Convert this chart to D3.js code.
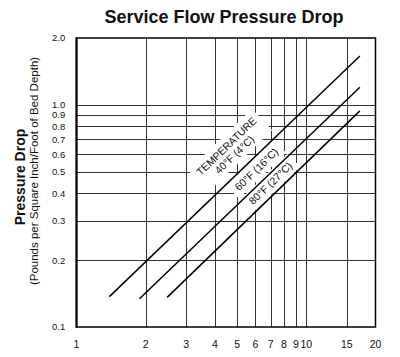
<!DOCTYPE html>
<html><head><meta charset="utf-8">
<script src="https://cdn.jsdelivr.net/npm/d3@7"></script>
<style>
html,body{margin:0;padding:0;background:#fff;}
text{font-family:"Liberation Sans",Arial,sans-serif;fill:#111;}
</style></head>
<body><svg id="c" width="400" height="357"></svg>
<script>
const title = "Service Flow Pressure Drop";
const yTitle = "Pressure Drop";
const ySubTitle = "(Pounds per Square Inch/Foot of Bed Depth)";
const xTicks = [1, 2, 3, 4, 5, 6, 7, 8, 9, 10, 15, 20];
const xGrid = [2, 3, 4, 5, 6, 7, 8, 9, 10, 15];
const yTicks = [0.1, 0.2, 0.3, 0.4, 0.5, 0.6, 0.7, 0.8, 0.9, 1.0, 2.0];
const yGrid = [0.2, 0.3, 0.4, 0.5, 0.6, 0.7, 0.8, 0.9, 1.0];
const seriesNames = ["40°F (4°C)", "60°F (16°C)", "80°F (27°C)"];
const flow40 = [1.39, 17.1], drop40 = [0.137, 1.66];
const flow60 = [1.88, 17.1], drop60 = [0.134, 1.20];
const flow80 = [2.48, 17.1], drop80 = [0.136, 0.94];

const svg = d3.select("#c");
const L = 76.5, R = 375.5, T = 38, B = 327;
const x = d3.scaleLog().domain([1, 20]).range([L, R]);
const y = d3.scaleLog().domain([0.1, 2]).range([B, T]);

// title
svg.append("text").attr("x", 224).attr("y", 23).attr("text-anchor", "middle")
  .style("font-size", "18px").style("font-weight", "bold").text(title);

// grid
const g = svg.append("g");
g.selectAll(".vx").data(xGrid).enter().append("line")
  .attr("x1", d => Math.round(x(d)) + 0.5).attr("x2", d => Math.round(x(d)) + 0.5)
  .attr("y1", T).attr("y2", B).attr("stroke", "#333").attr("stroke-width", 1);
g.selectAll(".hy").data(yGrid).enter().append("line")
  .attr("y1", d => Math.round(y(d)) + 0.5).attr("y2", d => Math.round(y(d)) + 0.5)
  .attr("x1", L).attr("x2", R).attr("stroke", "#333").attr("stroke-width", 1);

// labels with white masks
const angle = -44;
const labG = svg.append("g");
function label(lines, cx, cy) {
  const grp = labG.append("g").attr("transform", `translate(${cx},${cy}) rotate(${angle})`);
  const rect = grp.append("rect").attr("fill", "#fff");
  const tx = grp.append("g");
  lines.forEach((s, i) => {
    tx.append("text").attr("x", 0).attr("y", i * 11.5).attr("text-anchor", "middle")
      .style("font-size", "10.5px").text(s);
  });
  const bb = tx.node().getBBox();
  rect.attr("x", bb.x - 5).attr("y", bb.y - 3).attr("width", bb.width + 10).attr("height", bb.height + 6);
}
label(["TEMPERATURE", seriesNames[0]], 229, 149);
label([seriesNames[1]], 259, 172);
label([seriesNames[2]], 273, 186);

// frame
svg.append("rect").attr("x", L).attr("y", T).attr("width", R - L).attr("height", B - T)
  .attr("fill", "none").attr("stroke", "#000").attr("stroke-width", 1.5);
svg.append("line").attr("x1", L).attr("x2", L).attr("y1", T - 0.75).attr("y2", B + 0.75)
  .attr("stroke", "#000").attr("stroke-width", 2);

// data lines
const line = d3.line().x(d => x(d[0])).y(d => y(d[1]));
[[flow40, drop40], [flow60, drop60], [flow80, drop80]].forEach(([fx, dy]) => {
  svg.append("path").datum(fx.map((v, i) => [v, dy[i]])).attr("d", line)
    .attr("fill", "none").attr("stroke", "#000").attr("stroke-width", 1.5);
});

// tick labels
svg.selectAll(".xt").data(xTicks).enter().append("text")
  .attr("x", d => x(d)).attr("y", 348).attr("text-anchor", "middle")
  .style("font-size", "10.5px").text(d => d);
svg.selectAll(".yt").data(yTicks).enter().append("text")
  .attr("x", 52).attr("y", d => y(d)).attr("dy", "0.36em")
  .style("font-size", "9.5px").text(d => d.toFixed(1));

// axis titles
svg.append("text").attr("transform", "translate(25,177) rotate(-90)").attr("text-anchor", "middle")
  .style("font-size", "14px").style("font-weight", "bold").text(yTitle);
svg.append("text").attr("transform", "translate(38,171) rotate(-90)").attr("text-anchor", "middle")
  .style("font-size", "11.5px").text(ySubTitle);
</script></body></html>
